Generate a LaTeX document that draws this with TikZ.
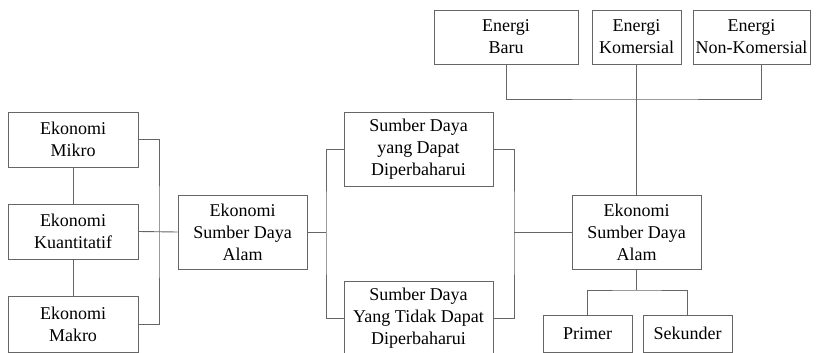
\documentclass[tikz,border=0pt]{standalone}
\usepackage{fontspec}
\setmainfont{Liberation Serif}
\begin{document}
\begin{tikzpicture}[x=1pt,y=-1pt,
  box/.style={draw=black!60, line width=0.9pt, inner sep=0pt, align=center,
    font=\fontsize{18}{22}\selectfont, text=black},
  conn/.style={draw=black!60, line width=0.9pt}]
\useasboundingbox (0,0) rectangle (821,353);
% left column
\node[box, minimum width=130, minimum height=55] (mikro) at (73,139.5) {Ekonomi\\Mikro};
\node[box, minimum width=130, minimum height=55] (kuant) at (73,231.5) {Ekonomi\\Kuantitatif};
\node[box, minimum width=130, minimum height=56] (makro) at (73,324) {Ekonomi\\Makro};
\node[box, minimum width=129, minimum height=74] (esda1) at (242.5,232) {Ekonomi\\Sumber Daya\\Alam};
\node[box, minimum width=149, minimum height=74] (sd1) at (418.5,149) {Sumber Daya\\yang Dapat\\Diperbaharui};
\node[box, minimum width=149, minimum height=74] (sd2) at (418.5,318) {Sumber Daya\\Yang Tidak Dapat\\Diperbaharui};
\node[box, minimum width=129, minimum height=74] (esda2) at (636.5,232) {Ekonomi\\Sumber Daya\\Alam};
\node[box, minimum width=144, minimum height=54] (baru) at (506,37) {Energi\\Baru};
\node[box, minimum width=89, minimum height=54] (kom) at (636.5,37) {Energi\\Komersial};
\node[box, minimum width=117, minimum height=54] (nonkom) at (751.5,37) {Energi\\Non-Komersial};
\node[box, minimum width=89, minimum height=37] (primer) at (587.5,333.5) {Primer};
\node[box, minimum width=89, minimum height=37] (sekunder) at (687.5,333.5) {Sekunder};
% helper coordinates
\coordinate (b1) at (159,232);
\coordinate (b2) at (326,232);
\coordinate (b3) at (514,232);
\coordinate (b4) at (636.5,99);
\coordinate (b5) at (636.5,290);
\coordinate (nk) at (761,64);
% connectors
\draw[conn] (mikro) -- (kuant);
\draw[conn] (kuant) -- (makro);
\draw[conn] (mikro.east) -| (b1) |- (makro.east);
\draw[conn] (kuant.east) -- (esda1.west);
\draw[conn] (esda1.east) -- (b2);
\draw[conn] (sd1.west) -| (b2) |- (sd2.west);
\draw[conn] (sd1.east) -| (b3) |- (sd2.east);
\draw[conn] (b3) -- (esda2.west);
\draw[conn] (kom.south) -- (esda2.north);
\draw[conn] (baru.south) |- (b4) -| (nk);
\draw[conn] (esda2.south) -- (b5);
\draw[conn] (primer.north) |- (b5) -| (sekunder.north);
\end{tikzpicture}
\end{document}
